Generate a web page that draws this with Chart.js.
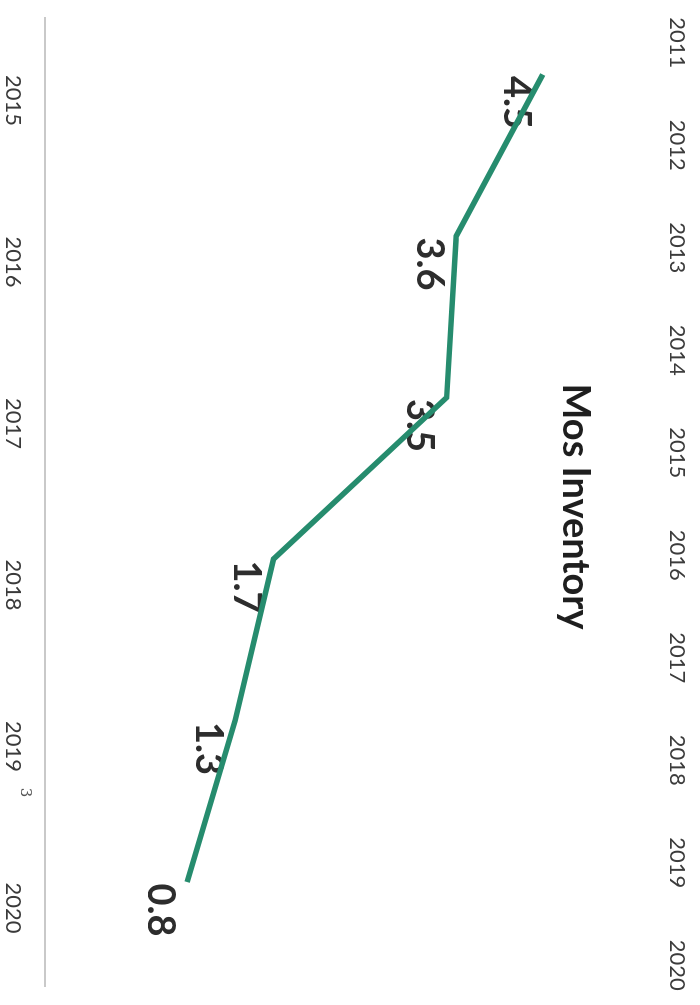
<!DOCTYPE html>
<html>
<head>
<meta charset="utf-8">
<script src="https://cdn.jsdelivr.net/npm/chart.js@4.4.1/dist/chart.umd.min.js"></script>
<style>
  html, body { margin: 0; padding: 0; background: #ffffff; overflow: hidden; width: 700px; height: 1005px; }
  #wrap { position: absolute; left: 0; top: 0; width: 1005px; height: 700px;
          transform-origin: 0 0; transform: translate(700px, 0) rotate(90deg); }
  canvas { display: block; }
</style>
</head>
<body>
<div id="wrap"><canvas id="c" width="1005" height="700"></canvas></div>
<script>
// ---- data (read from the scanned, rotated chart) ----
const years = [2015, 2016, 2017, 2018, 2019, 2020];
const inventory = [4.5, 3.6, 3.5, 1.7, 1.3, 0.8];
// year labels of the neighbouring chart bleeding in along the edge
const neighbourYears = [2011, 2012, 2013, 2014, 2015, 2016, 2017, 2018, 2019, 2020];
const chartTitle = 'Mos Inventory';
const scanMark = '3';

Chart.defaults.font.family = 'Lato, "Open Sans", sans-serif';

const valueLabels = {
  id: 'valueLabels',
  beforeDatasetsDraw(chart) {
    const ctx = chart.ctx;
    const meta = chart.getDatasetMeta(0);
    ctx.save();
    ctx.font = 'bold 38px Lato, "Open Sans", sans-serif';
    ctx.fillStyle = '#2d2d2d';
    ctx.textAlign = 'center';
    ctx.textBaseline = 'middle';
    meta.data.forEach((pt, i) => {
      ctx.fillText(inventory[i].toFixed(1), pt.x + 28, pt.y + 27);
    });
    ctx.restore();
  },
  afterDraw(chart) {
    const ctx = chart.ctx;
    const xs = chart.scales.x;
    ctx.save();
    ctx.font = '15px "DejaVu Serif", serif';
    ctx.fillStyle = '#555';
    ctx.textAlign = 'center';
    ctx.textBaseline = 'middle';
    ctx.fillText(scanMark, xs.getPixelForValue(years[4]) + 72, xs.top + 20);
    ctx.restore();
  }
};

new Chart(document.getElementById('c'), {
  type: 'line',
  data: {
    datasets: [{
      label: chartTitle,
      data: years.map((y, i) => ({ x: y, y: inventory[i] })),
      borderColor: '#268c6e',
      borderWidth: 5.5,
      pointRadius: 0,
      tension: 0,
      fill: false,
      clip: false,
      borderJoinStyle: 'miter'
    }]
  },
  options: {
    responsive: false,
    animation: false,
    devicePixelRatio: 1,
    layout: { padding: { left: 18, right: 10, top: 0, bottom: 0 } },
    plugins: {
      legend: { display: false },
      tooltip: { enabled: false },
      title: {
        display: true,
        text: chartTitle,
        color: '#1e1e1e',
        font: { size: 38, weight: 'bold' },
        padding: { top: 52, bottom: 0 }
      }
    },
    scales: {
      x: {
        type: 'linear',
        position: 'bottom',
        min: years[0] - 0.35,
        max: years[years.length - 1] + 0.644,
        afterFit: s => { s.height = 45; },
        grid: { display: false, drawTicks: false },
        border: { display: true, color: '#c9c9c9', width: 2 },
        ticks: {
          stepSize: 1,
          includeBounds: false,
          padding: 19,
          labelOffset: 26,
          color: '#3a3a3a',
          font: { size: 22 },
          maxRotation: 0,
          autoSkip: false,
          callback: v => String(v)
        }
      },
      x2: {
        type: 'linear',
        position: 'top',
        weight: 3000,
        min: neighbourYears[0] - 0.242,
        max: neighbourYears[neighbourYears.length - 1] + 0.203,
        afterFit: s => { s.height = 50; },
        grid: { display: false, drawTicks: false },
        border: { display: false },
        ticks: {
          stepSize: 1,
          includeBounds: false,
          padding: 14,
          color: '#3c3c3c',
          font: { size: 22 },
          maxRotation: 0,
          autoSkip: false,
          callback: v => String(v)
        }
      },
      y: {
        type: 'linear',
        display: false,
        min: -0.677,
        max: 4.6
      }
    }
  },
  plugins: [valueLabels]
});
</script>
</body>
</html>
